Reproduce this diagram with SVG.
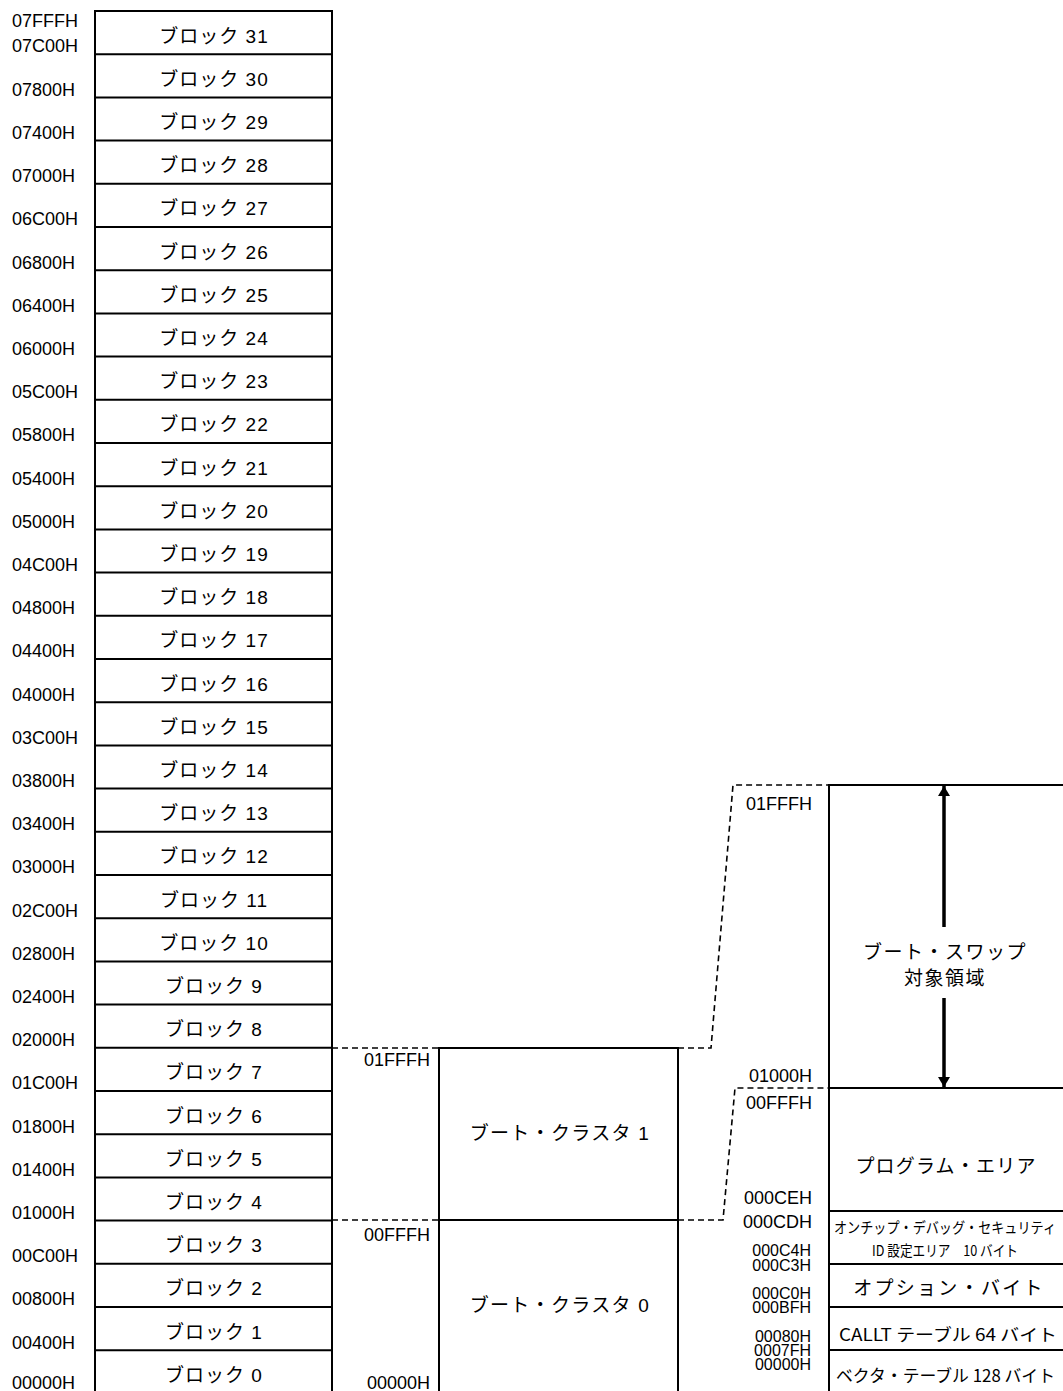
<svg xmlns="http://www.w3.org/2000/svg" width="1063" height="1391" viewBox="0 0 1063 1391">
<style>
.addr{font-family:"Liberation Sans",Arial,sans-serif;font-size:18px;fill:#000}
.addr-s{font-family:"Liberation Sans",Arial,sans-serif;font-size:16px;fill:#000;text-anchor:end}
.jp{font-family:"Liberation Sans","Noto Sans CJK JP",sans-serif;font-size:19px;fill:#000;text-anchor:middle}
.blk{letter-spacing:1px}
.cond{font-family:"Noto Sans CJK JP",sans-serif;fill:#000}
.box{fill:#fff;stroke:#000;stroke-width:2}
.sep{stroke:#000;stroke-width:2}
.dash{fill:none;stroke:#000;stroke-width:1.6;stroke-dasharray:6 4}
</style>
<defs>
<marker id="ah" viewBox="0 0 10 12" refX="10" refY="6" markerWidth="10" markerHeight="12" markerUnits="userSpaceOnUse" orient="auto">
<path d="M0,0 L10,6 L0,12 Z" fill="#000"/>
</marker>
</defs>
<rect width="1063" height="1391" fill="#fff"/>

<g id="block-column">
<rect class="box" x="95" y="11" width="237" height="1400"/>
<g id="blocks">
<text class="jp blk" x="214" y="42.5">ブロック 31</text>
<line class="sep" x1="95" y1="54.2" x2="332" y2="54.2"/>
<text class="jp blk" x="214" y="85.7">ブロック 30</text>
<line class="sep" x1="95" y1="97.4" x2="332" y2="97.4"/>
<text class="jp blk" x="214" y="128.9">ブロック 29</text>
<line class="sep" x1="95" y1="140.6" x2="332" y2="140.6"/>
<text class="jp blk" x="214" y="172.1">ブロック 28</text>
<line class="sep" x1="95" y1="183.8" x2="332" y2="183.8"/>
<text class="jp blk" x="214" y="215.3">ブロック 27</text>
<line class="sep" x1="95" y1="227" x2="332" y2="227"/>
<text class="jp blk" x="214" y="258.5">ブロック 26</text>
<line class="sep" x1="95" y1="270.2" x2="332" y2="270.2"/>
<text class="jp blk" x="214" y="301.7">ブロック 25</text>
<line class="sep" x1="95" y1="313.4" x2="332" y2="313.4"/>
<text class="jp blk" x="214" y="344.9">ブロック 24</text>
<line class="sep" x1="95" y1="356.6" x2="332" y2="356.6"/>
<text class="jp blk" x="214" y="388.1">ブロック 23</text>
<line class="sep" x1="95" y1="399.8" x2="332" y2="399.8"/>
<text class="jp blk" x="214" y="431.3">ブロック 22</text>
<line class="sep" x1="95" y1="443" x2="332" y2="443"/>
<text class="jp blk" x="214" y="474.5">ブロック 21</text>
<line class="sep" x1="95" y1="486.2" x2="332" y2="486.2"/>
<text class="jp blk" x="214" y="517.7">ブロック 20</text>
<line class="sep" x1="95" y1="529.4" x2="332" y2="529.4"/>
<text class="jp blk" x="214" y="560.9">ブロック 19</text>
<line class="sep" x1="95" y1="572.6" x2="332" y2="572.6"/>
<text class="jp blk" x="214" y="604.1">ブロック 18</text>
<line class="sep" x1="95" y1="615.8" x2="332" y2="615.8"/>
<text class="jp blk" x="214" y="647.3">ブロック 17</text>
<line class="sep" x1="95" y1="659" x2="332" y2="659"/>
<text class="jp blk" x="214" y="690.5">ブロック 16</text>
<line class="sep" x1="95" y1="702.2" x2="332" y2="702.2"/>
<text class="jp blk" x="214" y="733.7">ブロック 15</text>
<line class="sep" x1="95" y1="745.4" x2="332" y2="745.4"/>
<text class="jp blk" x="214" y="776.9">ブロック 14</text>
<line class="sep" x1="95" y1="788.6" x2="332" y2="788.6"/>
<text class="jp blk" x="214" y="820.1">ブロック 13</text>
<line class="sep" x1="95" y1="831.8" x2="332" y2="831.8"/>
<text class="jp blk" x="214" y="863.3">ブロック 12</text>
<line class="sep" x1="95" y1="875" x2="332" y2="875"/>
<text class="jp blk" x="214" y="906.5">ブロック 11</text>
<line class="sep" x1="95" y1="918.2" x2="332" y2="918.2"/>
<text class="jp blk" x="214" y="949.7">ブロック 10</text>
<line class="sep" x1="95" y1="961.4" x2="332" y2="961.4"/>
<text class="jp blk" x="214" y="992.9">ブロック 9</text>
<line class="sep" x1="95" y1="1004.6" x2="332" y2="1004.6"/>
<text class="jp blk" x="214" y="1036.1">ブロック 8</text>
<line class="sep" x1="95" y1="1047.8" x2="332" y2="1047.8"/>
<text class="jp blk" x="214" y="1079.3">ブロック 7</text>
<line class="sep" x1="95" y1="1091" x2="332" y2="1091"/>
<text class="jp blk" x="214" y="1122.5">ブロック 6</text>
<line class="sep" x1="95" y1="1134.2" x2="332" y2="1134.2"/>
<text class="jp blk" x="214" y="1165.7">ブロック 5</text>
<line class="sep" x1="95" y1="1177.4" x2="332" y2="1177.4"/>
<text class="jp blk" x="214" y="1208.9">ブロック 4</text>
<line class="sep" x1="95" y1="1220.6" x2="332" y2="1220.6"/>
<text class="jp blk" x="214" y="1252.1">ブロック 3</text>
<line class="sep" x1="95" y1="1263.8" x2="332" y2="1263.8"/>
<text class="jp blk" x="214" y="1295.3">ブロック 2</text>
<line class="sep" x1="95" y1="1307" x2="332" y2="1307"/>
<text class="jp blk" x="214" y="1338.5">ブロック 1</text>
<line class="sep" x1="95" y1="1350.2" x2="332" y2="1350.2"/>
<text class="jp blk" x="214" y="1381.7">ブロック 0</text>
</g>
<g id="block-addresses">
<text class="addr" x="12" y="27">07FFFH</text>
<text class="addr" x="12" y="52">07C00H</text>
<text class="addr" x="12" y="96">07800H</text>
<text class="addr" x="12" y="139">07400H</text>
<text class="addr" x="12" y="182">07000H</text>
<text class="addr" x="12" y="225">06C00H</text>
<text class="addr" x="12" y="269">06800H</text>
<text class="addr" x="12" y="312">06400H</text>
<text class="addr" x="12" y="355">06000H</text>
<text class="addr" x="12" y="398">05C00H</text>
<text class="addr" x="12" y="441">05800H</text>
<text class="addr" x="12" y="485">05400H</text>
<text class="addr" x="12" y="528">05000H</text>
<text class="addr" x="12" y="571">04C00H</text>
<text class="addr" x="12" y="614">04800H</text>
<text class="addr" x="12" y="657">04400H</text>
<text class="addr" x="12" y="701">04000H</text>
<text class="addr" x="12" y="744">03C00H</text>
<text class="addr" x="12" y="787">03800H</text>
<text class="addr" x="12" y="830">03400H</text>
<text class="addr" x="12" y="873">03000H</text>
<text class="addr" x="12" y="917">02C00H</text>
<text class="addr" x="12" y="960">02800H</text>
<text class="addr" x="12" y="1003">02400H</text>
<text class="addr" x="12" y="1046">02000H</text>
<text class="addr" x="12" y="1089">01C00H</text>
<text class="addr" x="12" y="1133">01800H</text>
<text class="addr" x="12" y="1176">01400H</text>
<text class="addr" x="12" y="1219">01000H</text>
<text class="addr" x="12" y="1262">00C00H</text>
<text class="addr" x="12" y="1305">00800H</text>
<text class="addr" x="12" y="1349">00400H</text>
<text class="addr" x="12" y="1389">00000H</text>
</g>
</g>

<g id="boot-cluster-1">
<rect class="box" x="439" y="1048" width="239" height="172"/>
<text class="jp" x="560" y="1140" style="letter-spacing:1.3px">ブート・クラスタ 1</text>
</g>
<g id="boot-cluster-0">
<rect class="box" x="439" y="1220" width="239" height="190"/>
<text class="jp" x="560" y="1312" style="letter-spacing:1.3px">ブート・クラスタ 0</text>
</g>
<g id="cluster-addresses">
<text class="addr" x="430" y="1066" text-anchor="end">01FFFH</text>
<text class="addr" x="430" y="1241" text-anchor="end">00FFFH</text>
<text class="addr" x="430" y="1389" text-anchor="end">00000H</text>
</g>

<g id="swap-area">
<rect class="box" x="829" y="785" width="250" height="303"/>
<text class="jp" x="945" y="959" style="letter-spacing:1.5px">ブート・スワップ</text>
<text class="jp" x="945" y="985" style="letter-spacing:1.5px">対象領域</text>
</g>
<g id="program-area">
<rect class="box" x="829" y="1088" width="250" height="123"/>
<text class="jp" x="946" y="1173" style="letter-spacing:1.2px">プログラム・エリア</text>
</g>
<g id="security-id">
<rect class="box" x="829" y="1211" width="250" height="53"/>
<text class="cond" x="834" y="1233" font-size="15" textLength="222" lengthAdjust="spacingAndGlyphs">オンチップ・デバッグ・セキュリティ</text>
<text class="cond" x="872" y="1256" font-size="15" textLength="146" lengthAdjust="spacingAndGlyphs">ID 設定エリア　10 バイト</text>
</g>
<g id="option-byte">
<rect class="box" x="829" y="1264" width="250" height="43"/>
<text class="jp" x="949" y="1295" style="letter-spacing:2.3px">オプション・バイト</text>
</g>
<g id="callt-table">
<rect class="box" x="829" y="1307" width="250" height="43"/>
<text class="cond" x="839" y="1341" font-size="17" textLength="218" lengthAdjust="spacingAndGlyphs">CALLT テーブル 64 バイト</text>
</g>
<g id="vector-table">
<rect class="box" x="829" y="1350" width="250" height="60"/>
<text class="cond" x="836" y="1382" font-size="17" textLength="219" lengthAdjust="spacingAndGlyphs">ベクタ・テーブル 128 バイト</text>
</g>
<g id="right-addresses">
<text class="addr" x="812" y="810" text-anchor="end">01FFFH</text>
<text class="addr" x="812" y="1082" text-anchor="end">01000H</text>
<text class="addr" x="812" y="1109" text-anchor="end">00FFFH</text>
<text class="addr" x="812" y="1204" text-anchor="end">000CEH</text>
<text class="addr" x="812" y="1228" text-anchor="end">000CDH</text>
<text class="addr-s" x="811" y="1256">000C4H</text>
<text class="addr-s" x="811" y="1271">000C3H</text>
<text class="addr-s" x="811" y="1299">000C0H</text>
<text class="addr-s" x="811" y="1313">000BFH</text>
<text class="addr-s" x="811" y="1342">00080H</text>
<text class="addr-s" x="811" y="1356">0007FH</text>
<text class="addr-s" x="811" y="1370">00000H</text>
</g>

<g id="connectors">
<path class="dash" d="M332,1048 H439"/>
<path class="dash" d="M332,1220 H439"/>
<path class="dash" d="M678,1048 H711 L733,785 H829"/>
<path class="dash" d="M678,1220 H723 L735,1088 H829"/>
<line x1="944" y1="927" x2="944" y2="786" stroke="#000" stroke-width="3.5" marker-end="url(#ah)"/>
<line x1="944" y1="998" x2="944" y2="1087" stroke="#000" stroke-width="3.5" marker-end="url(#ah)"/>
</g>
</svg>
